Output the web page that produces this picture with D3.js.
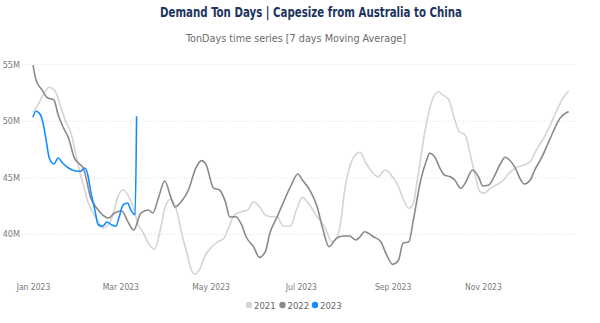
<!DOCTYPE html>
<html>
<head>
<meta charset="utf-8">
<script src="https://cdn.jsdelivr.net/npm/d3@7"></script>
<style>
  html, body { margin: 0; padding: 0; background: #fff; }
  svg { display: block; }
  text { font-family: "DejaVu Sans Condensed", "Roboto", sans-serif; }
</style>
</head>
<body>
<svg id="chart" width="600" height="323"></svg>
<script>
// ---- Data (day of year 2023 axis, values in millions of ton days) ----
const seriesNames = ["2021", "2022", "2023"];
const seriesColors = ["#d4d4d4", "#8a8a8a", "#118DFF"];

const days2021 = [0,2,7,11,15,19,22,26,28,30,32,34,37,40,44,47,51,54,57,61,64,68,71,74,78,82,86,89,93,97,100,104,107,109,113,116,121,125,129,132,136,141,145,149,153,157,161,165,169,174,178,182,186,192,197,202,205,207,211,214,219,221,225,230,233,238,242,247,250,254,257,260,265,269,274,277,281,285,288,292,295,299,302,305,309,313,318,322,327,332,336,340,345,349,354,358,362];
const values2021 = [50.78,51.13,52.31,52.96,52.61,51.13,49.96,48.77,47.60,46.42,45.24,44.36,42.89,42.00,41.12,40.53,40.82,41.70,43.18,43.91,43.47,42.30,40.82,40.24,39.18,38.65,40.35,42.27,43.07,42.12,40.35,38.30,36.82,36.47,36.97,38.00,38.88,39.32,39.62,40.50,41.68,41.97,42.12,42.85,42.41,41.68,41.53,41.53,40.71,40.71,42.12,43.24,42.71,41.53,40.64,39.32,39.62,40.35,44.18,45.95,47.13,47.22,46.25,45.36,45.06,45.65,45.21,44.18,43.15,42.27,42.71,45.06,49.19,51.55,52.57,52.28,51.84,50.07,49.04,48.75,47.27,45.06,43.74,43.60,44.04,44.33,44.77,45.42,45.89,46.10,46.39,47.42,48.45,49.48,50.95,51.99,52.66];

const days2022 = [0,2,6,10,14,17,20,24,28,32,34,39,43,47,51,55,60,64,68,73,78,81,85,89,93,96,101,105,110,114,117,122,126,130,133,137,141,144,149,153,157,160,165,169,174,179,182,187,192,196,200,205,210,214,218,221,224,230,235,239,243,247,250,254,257,262,266,268,272,275,278,282,285,289,292,297,301,304,308,311,316,319,322,326,329,332,336,339,344,348,352,356,361,362];
const values2022 = [54.93,53.63,52.75,52.01,51.86,50.54,49.54,48.48,46.71,46.12,45.83,43.18,42.30,41.70,41.41,41.86,42.03,41.12,40.35,41.86,42.12,41.86,43.30,44.68,43.30,42.39,43.00,43.89,45.83,46.48,46.10,44.06,43.89,42.85,41.50,41.53,40.80,39.76,38.88,37.94,38.44,40.06,41.53,42.74,44.18,45.30,44.77,43.89,42.41,40.35,38.88,39.62,39.82,39.82,39.47,39.76,40.20,39.76,39.32,38.14,37.32,37.70,39.18,39.32,41.24,44.77,46.54,47.13,46.69,45.80,45.21,45.06,44.77,44.04,44.48,45.65,45.06,44.24,44.33,44.92,46.25,46.78,46.54,45.80,44.92,44.42,44.77,45.65,46.83,48.01,49.19,50.22,50.75,50.80];

const days2023 = [0,2,5,7,9,11,14,17,20,24,28,32,35,37,39,42,44,47,50,53,56,58,61,64,66,69,70];
const values2023 = [50.31,50.84,50.54,49.66,48.19,46.71,46.18,46.71,46.27,45.83,45.59,45.54,45.83,45.24,43.77,42.00,40.82,40.68,41.06,40.82,40.68,41.41,42.59,42.74,42.15,41.70,50.40];

const yTicks = [40, 45, 50, 55];
const xTickMonths = ["2023-01-01","2023-03-01","2023-05-01","2023-07-01","2023-09-01","2023-11-01"];

const titleText = "Demand Ton Days | Capesize from Australia to China";
const subtitleText = "TonDays time series [7 days Moving Average]";

// ---- Build ----
const start = new Date(2023, 0, 1);
const toDate = d => d3.timeDay.offset(start, d);
const allSeries = [
  { name: seriesNames[0], color: seriesColors[0], pts: days2021.map((d, i) => ({ date: toDate(d), v: values2021[i] })) },
  { name: seriesNames[1], color: seriesColors[1], pts: days2022.map((d, i) => ({ date: toDate(d), v: values2022[i] })) },
  { name: seriesNames[2], color: seriesColors[2], pts: days2023.map((d, i) => ({ date: toDate(d), v: values2023[i] })) }
];

const svg = d3.select("#chart");

const x = d3.scaleTime()
  .domain([start, new Date(2023, 11, 31)])
  .range([33, 571.7]);

const y = d3.scaleLinear()
  .domain([36, 56])
  .range([279.3, 52.9]);

// Title & subtitle
svg.append("text")
  .attr("x", 160).attr("y", 17)
  .attr("font-size", 13.5).attr("font-weight", "bold")
  .attr("fill", "#1c3560")
  .attr("textLength", 302)
  .attr("lengthAdjust", "spacingAndGlyphs")
  .text(titleText);

svg.append("text")
  .attr("x", 186).attr("y", 42)
  .attr("font-size", 11)
  .attr("fill", "#6b6b6b")
  .attr("textLength", 220)
  .attr("lengthAdjust", "spacingAndGlyphs")
  .text(subtitleText);

// Y grid + labels
const yAxis = d3.axisLeft(y)
  .tickValues(yTicks)
  .tickSize(-555)
  .tickPadding(2)
  .tickFormat(d => d + "M");

const gy = svg.append("g")
  .attr("transform", "translate(22,0)")
  .call(yAxis);
gy.select(".domain").remove();
gy.selectAll(".tick line")
  .attr("stroke", "#dedede")
  .attr("stroke-dasharray", "1,2")
  .attr("stroke-width", 1);
gy.selectAll(".tick text")
  .attr("fill", "#7a7a7a")
  .attr("font-size", 9)
  .attr("font-family", "DejaVu Sans Condensed, sans-serif");

// X axis labels
const xAxis = d3.axisBottom(x)
  .tickValues(xTickMonths.map(s => d3.timeParse("%Y-%m-%d")(s)))
  .tickSize(0)
  .tickPadding(0)
  .tickFormat(d3.timeFormat("%b %Y"));

const gx = svg.append("g")
  .attr("transform", "translate(0,283.5)")
  .call(xAxis);
gx.select(".domain").remove();
gx.selectAll(".tick text")
  .attr("fill", "#7a7a7a")
  .attr("font-size", 8.5)
  .attr("font-family", "DejaVu Sans Condensed, sans-serif");

// Lines
const line = d3.line()
  .x(d => x(d.date))
  .y(d => y(d.v))
  .curve(d3.curveMonotoneX);

svg.append("g")
  .selectAll("path")
  .data(allSeries)
  .join("path")
  .attr("fill", "none")
  .attr("stroke", d => d.color)
  .attr("stroke-width", 1.6)
  .attr("stroke-linejoin", "round")
  .attr("d", d => line(d.pts));

// Legend
const legendX = [249, 282.5, 315];
const lg = svg.append("g");
allSeries.forEach((s, i) => {
  lg.append("circle")
    .attr("cx", legendX[i]).attr("cy", 305)
    .attr("r", 3.2)
    .attr("fill", s.color);
  lg.append("text")
    .attr("x", legendX[i] + 5).attr("y", 308.5)
    .attr("font-size", 9.5)
    .attr("fill", "#666")
    .text(s.name);
});
</script>
</body>
</html>
